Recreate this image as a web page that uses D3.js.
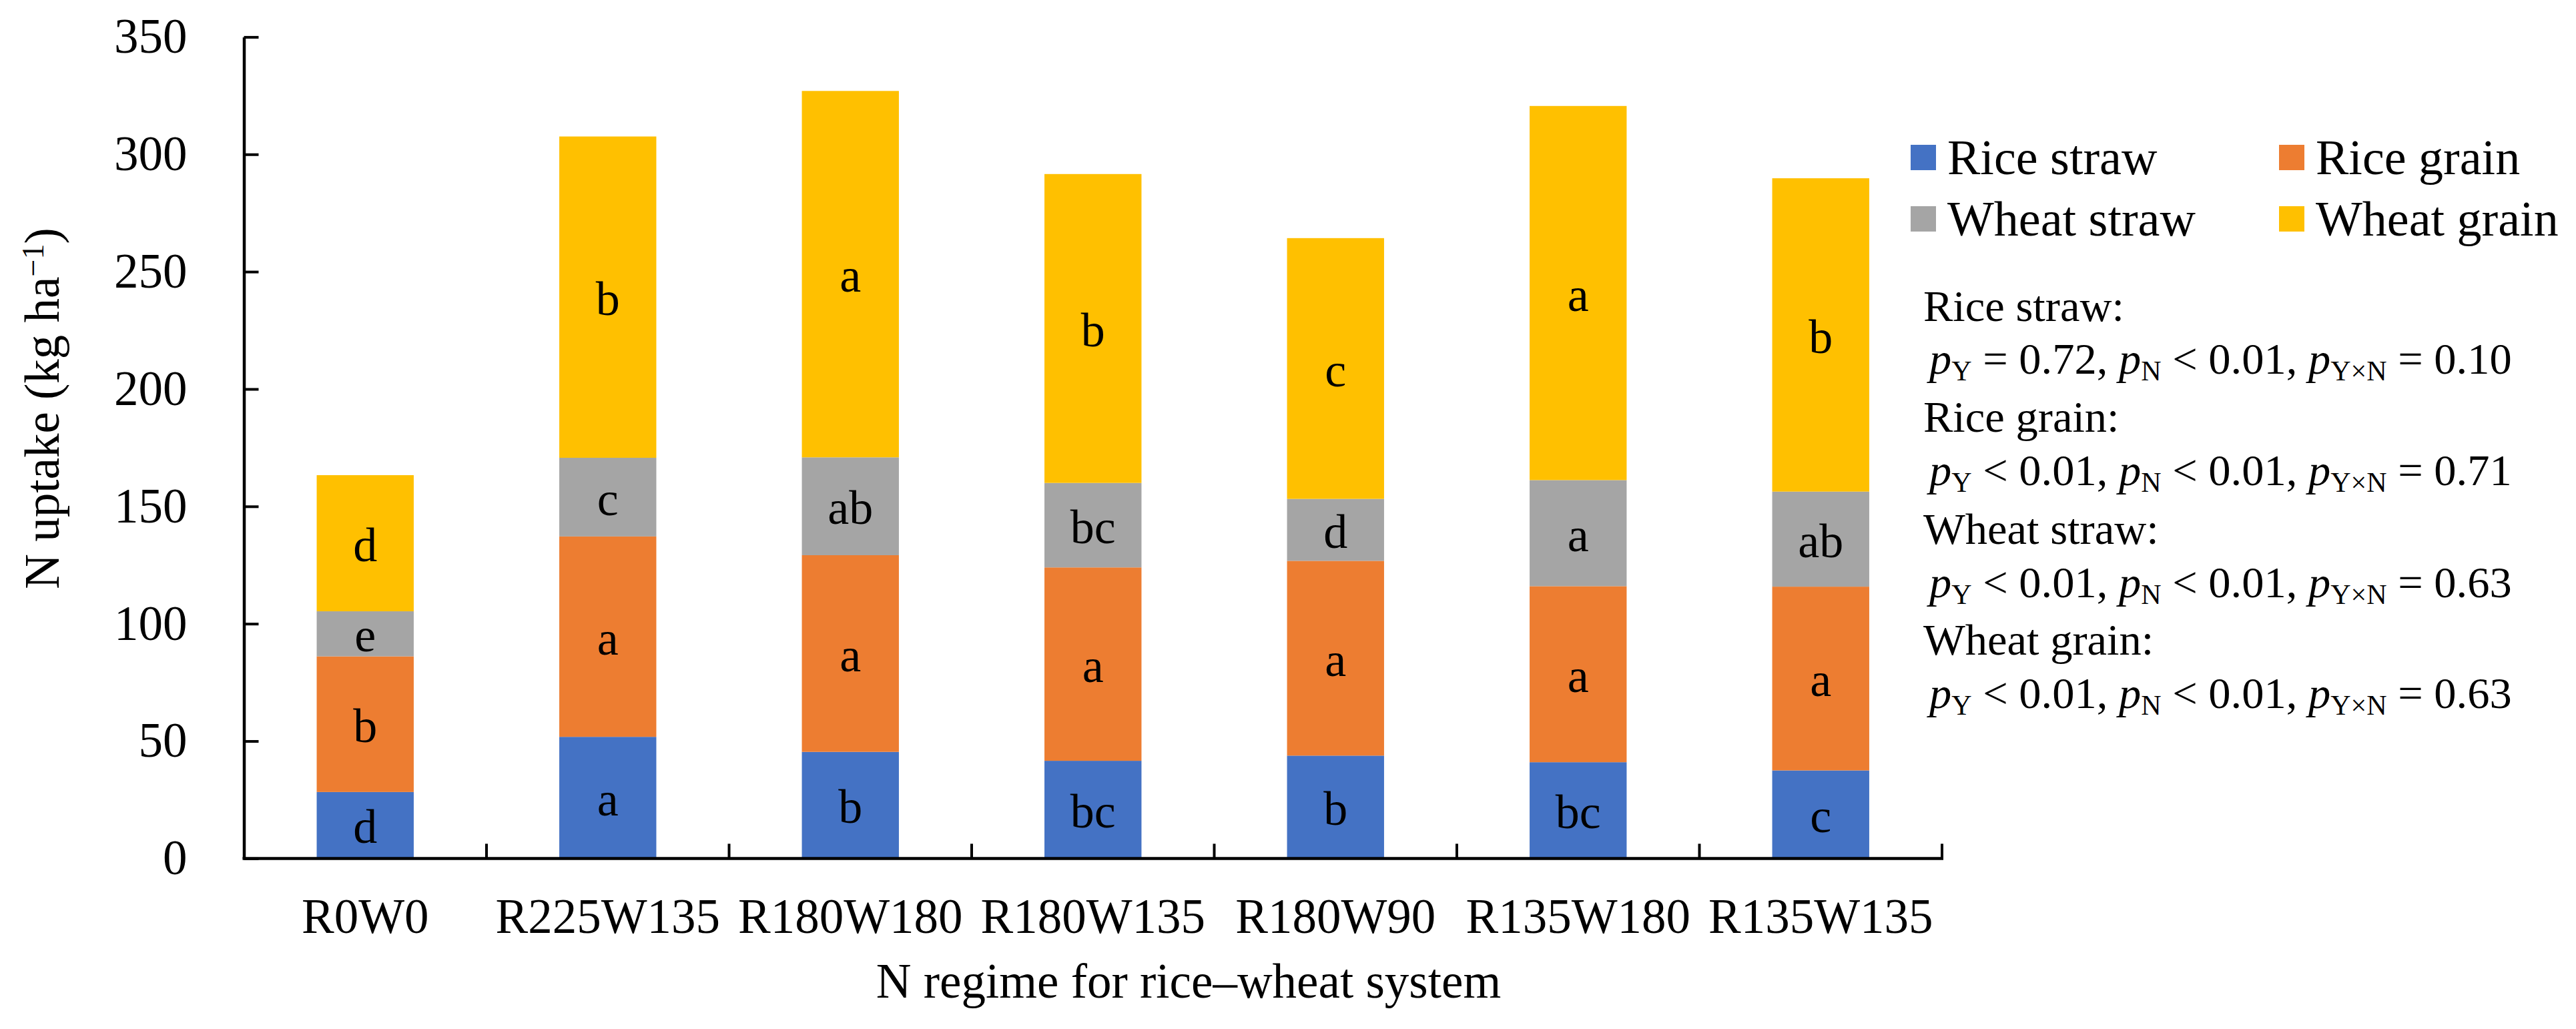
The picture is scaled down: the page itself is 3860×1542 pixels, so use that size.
<!DOCTYPE html>
<html>
<head>
<meta charset="utf-8">
<script src="https://cdn.jsdelivr.net/npm/d3@7/dist/d3.min.js"></script>
<style>
  html, body { margin: 0; padding: 0; background: #ffffff; }
  svg { display: block; }
  svg text { font-family: 'Liberation Serif', 'Times New Roman', Times, 'Nimbus Roman', 'DejaVu Serif', serif !important; fill: #000; }
</style>
</head>
<body>
<svg id="chart" width="3860" height="1542"></svg>
<script>
// ---------------- DATA ----------------
const categories = ["R0W0", "R225W135", "R180W180", "R180W135", "R180W90", "R135W180", "R135W135"];
const seriesNames = ["Rice straw", "Rice grain", "Wheat straw", "Wheat grain"];
const riceStraw  = [28.3, 51.8, 45.4, 41.6, 43.8, 41.0, 37.5];
const riceGrain  = [57.8, 85.4, 83.8, 82.4, 83.0, 75.0, 78.3];
const wheatStraw = [19.2, 33.5, 41.7, 36.0, 26.4, 45.2, 40.5];
const wheatGrain = [58.0, 136.9, 156.1, 131.6, 111.1, 159.4, 133.5];
const riceStrawLetters  = ["d", "a", "b", "bc", "b", "bc", "c"];
const riceGrainLetters  = ["b", "a", "a", "a", "a", "a", "a"];
const wheatStrawLetters = ["e", "c", "ab", "bc", "d", "a", "ab"];
const wheatGrainLetters = ["d", "b", "a", "b", "c", "a", "b"];
const yTicks = [0, 50, 100, 150, 200, 250, 300, 350];
const statsTitles = ["Rice straw:", "Rice grain:", "Wheat straw:", "Wheat grain:"];
const statsPY  = ["= 0.72", "< 0.01", "< 0.01", "< 0.01"];
const statsPN  = ["< 0.01", "< 0.01", "< 0.01", "< 0.01"];
const statsPYN = ["= 0.10", "= 0.71", "= 0.63", "= 0.63"];
const colors = ["#4472C4", "#ED7D31", "#A5A5A5", "#FFC000"];

// ---------------- LAYOUT ----------------
const FONT = "'Liberation Serif', 'Times New Roman', Times, 'Nimbus Roman', 'DejaVu Serif', serif";
const svg = d3.select("#chart");
const plotLeft = 365.5, plotRight = 2910, plotTop = 55.4, plotBottom = 1286.4;
const FS = 73;

const table = categories.map((c, i) => ({
  cat: c,
  "Rice straw": riceStraw[i],
  "Rice grain": riceGrain[i],
  "Wheat straw": wheatStraw[i],
  "Wheat grain": wheatGrain[i]
}));
const letters = [riceStrawLetters, riceGrainLetters, wheatStrawLetters, wheatGrainLetters];

const x = d3.scaleBand().domain(categories).range([plotLeft, plotRight]).paddingInner(0.6).paddingOuter(0.3);
const y = d3.scaleLinear().domain([0, 350]).range([plotBottom, plotTop]);
const color = d3.scaleOrdinal().domain(seriesNames).range(colors);

const stacked = d3.stack().keys(seriesNames)(table);

// bars
const layers = svg.append("g").selectAll("g").data(stacked).join("g")
  .attr("fill", d => color(d.key));
layers.selectAll("rect").data(d => d).join("rect")
  .attr("x", d => x(d.data.cat))
  .attr("width", x.bandwidth())
  .attr("y", d => y(d[1]))
  .attr("height", d => y(d[0]) - y(d[1]));

// letters
const lab = svg.append("g").attr("font-family", FONT);
stacked.forEach((layer, si) => {
  lab.selectAll(null).data(layer).join("text")
    .attr("x", d => x(d.data.cat) + x.bandwidth() / 2)
    .attr("y", d => (y(d[0]) + y(d[1])) / 2)
    .attr("dy", "0.37em")
    .attr("text-anchor", "middle")
    .attr("font-size", 72)
    .text((d, i) => letters[si][i]);
});

// y axis
const yAxis = d3.axisLeft(y).tickValues(yTicks).tickSizeInner(-22).tickSizeOuter(0).tickPadding(85);
const gy = svg.append("g").attr("transform", `translate(${plotLeft},0)`).call(yAxis)
  .attr("font-family", FONT).attr("font-size", FS);
gy.select(".domain").attr("stroke", "#000").attr("stroke-width", 4.5);
gy.selectAll(".tick line").attr("stroke", "#000").attr("stroke-width", 4);
gy.selectAll(".tick text").attr("fill", "#000");

// x axis
const xAxis = d3.axisBottom(x).tickSize(0).tickPadding(60);
const gx = svg.append("g").attr("transform", `translate(0,${plotBottom})`).call(xAxis)
  .attr("font-family", FONT).attr("font-size", FS);
gx.select(".domain").attr("stroke", "#000").attr("stroke-width", 4.5)
  .attr("d", `M${plotLeft - 2},0H${plotRight + 2}`);
gx.selectAll(".tick text").attr("fill", "#000");
// category boundary ticks
const boundaries = categories.map((c, i) => x(c) - x.step() * x.paddingInner() / 2 + x.step());
svg.append("g").selectAll("line").data(boundaries).join("line")
  .attr("x1", d => d).attr("x2", d => d)
  .attr("y1", plotBottom).attr("y2", plotBottom - 22)
  .attr("stroke", "#000").attr("stroke-width", 4);

// axis titles
svg.append("text")
  .attr("x", 1781).attr("y", 1495)
  .attr("text-anchor", "middle").attr("font-size", FS)
  .text("N regime for rice\u2013wheat system");

const yt = svg.append("text")
  .attr("transform", "translate(88,612) rotate(-90)")
  .attr("text-anchor", "middle").attr("font-size", FS);
yt.append("tspan").text("N uptake (kg ha");
yt.append("tspan").attr("font-size", 46).attr("dy", -23).text("\u22121");
yt.append("tspan").attr("dy", 23).text(")");

// legend
const legendPos = [[2863, 217], [3415, 217], [2863, 309], [3415, 309]];
const lg = svg.append("g");
seriesNames.forEach((name, i) => {
  const [lx, ly] = legendPos[i];
  lg.append("rect").attr("x", lx).attr("y", ly).attr("width", 38).attr("height", 38).attr("fill", color(name));
  lg.append("text").attr("x", lx + 55).attr("y", ly + 44).attr("font-size", 74).text(name);
});

// stats text
const sfs = 66.5, subfs = 42, subdy = 10;
const titleBase = [480.6, 647, 815, 981];
const pBase = [560, 727, 895, 1061];
const st = svg.append("g").style("white-space", "pre");
statsTitles.forEach((t, i) => {
  st.append("text").attr("x", 2882).attr("y", titleBase[i]).attr("font-size", sfs).text(t);
  const tx = st.append("text").attr("x", 2891).attr("y", pBase[i]).attr("font-size", sfs).style("white-space", "pre");
  const parts = [
    ["p", "Y", " " + statsPY[i] + ", "],
    ["p", "N", " " + statsPN[i] + ", "],
    ["p", "Y\u00D7N", " " + statsPYN[i]]
  ];
  parts.forEach(([p, sub, rest]) => {
    tx.append("tspan").attr("font-style", "italic").text(p);
    tx.append("tspan").attr("font-size", subfs).attr("dy", subdy).text(sub);
    tx.append("tspan").attr("dy", -subdy).text(rest);
  });
});
</script>
</body>
</html>
